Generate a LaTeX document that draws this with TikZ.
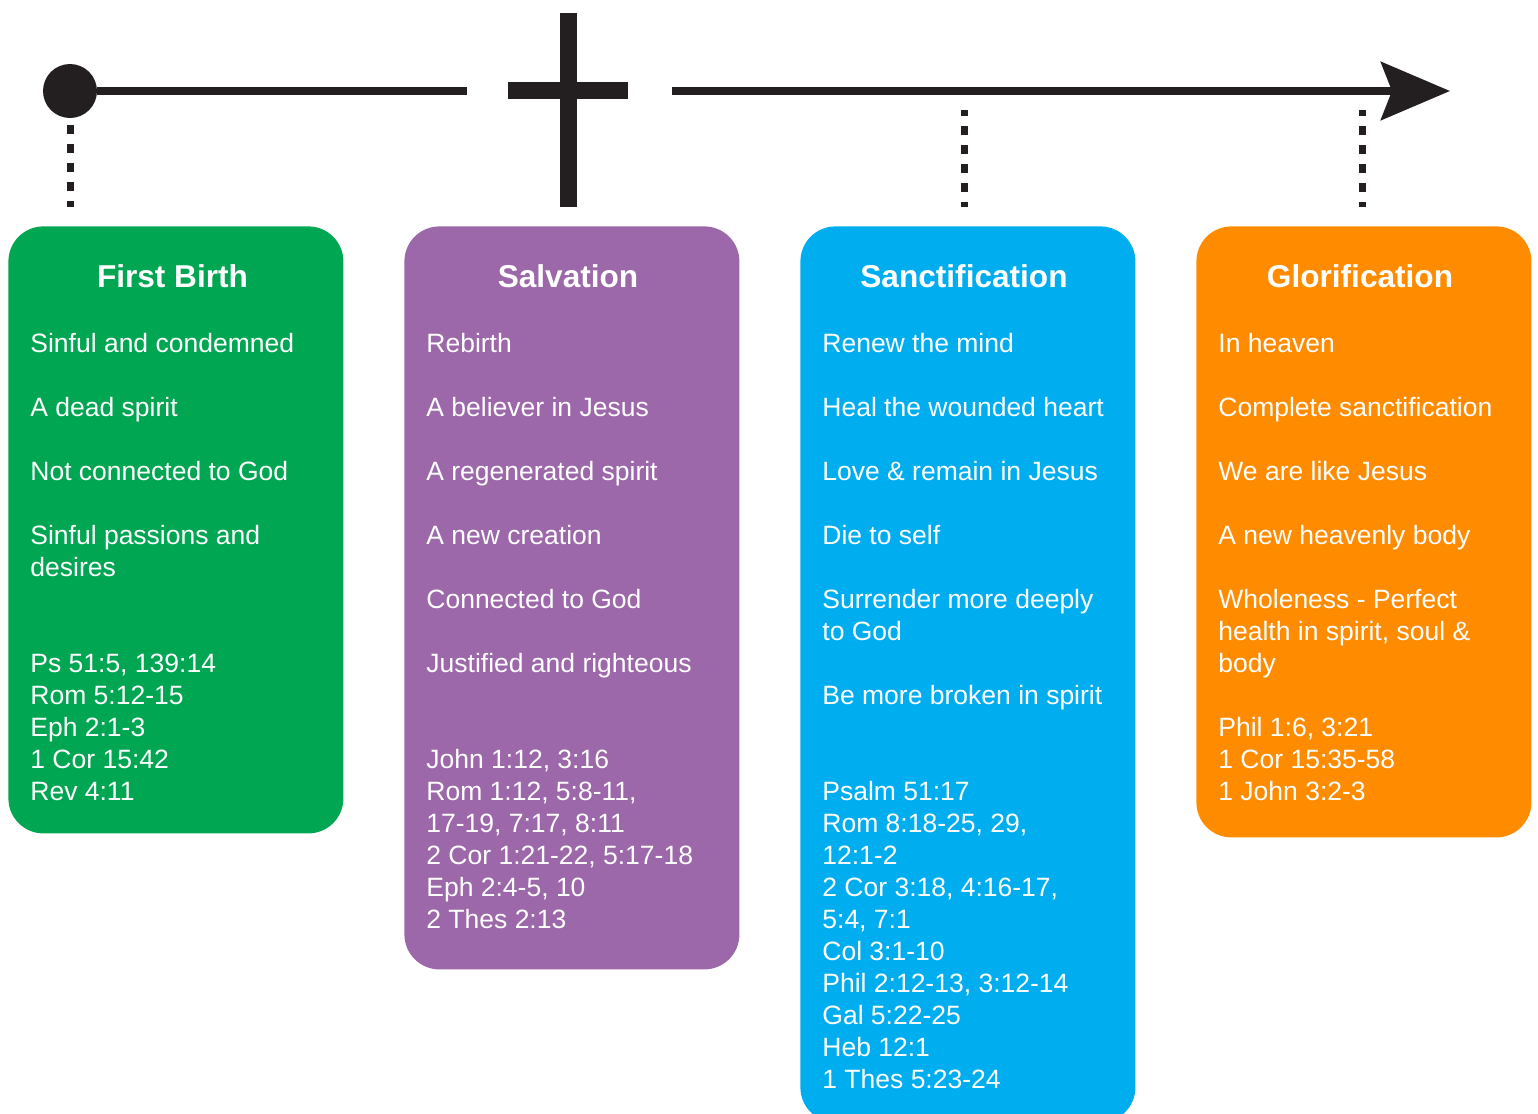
\documentclass[tikz,border=0pt]{standalone}
\usepackage{fontspec}
\setmainfont{Liberation Sans}
\usetikzlibrary{arrows.meta}

\definecolor{ink}{RGB}{35,31,32}
\definecolor{birthgreen}{RGB}{0,166,81}
\definecolor{salvpurple}{RGB}{156,104,170}
\definecolor{sanctblue}{RGB}{0,174,239}
\definecolor{gloryorange}{RGB}{255,140,0}

\begin{document}
\begin{tikzpicture}[x=0.5pt,y=-0.5pt]
\tikzset{StageBox/.style =
	{shape = rectangle,
		rounded corners = 17.5pt,
		minimum width = 167.5pt,
		anchor = north west,
		inner sep = 0pt},
	StageTitle/.style =
	{text = white,
		font = \fontsize{15.8}{19}\selectfont\bfseries,
		anchor = base,
		inner sep = 0pt},
	StageText/.style =
	{text = white,
		font = \fontsize{13.25}{16}\selectfont,
		anchor = base west,
		align = left,
		inner sep = 0pt},
	DotLine/.style =
	{draw = ink,
		line width = 3.5pt,
		dash pattern = on 4.5pt off 5pt}}
\useasboundingbox (0,0) rectangle (1538,1114);

% timeline
\node[circle, fill=ink, minimum size=27pt, inner sep=0pt] (start) at (70,91) {};
\coordinate (gapL) at (467,91);
\coordinate (gapR) at (672,91);
\coordinate (tip) at (1450,91);
\coordinate (sanctT) at (964,91);
\coordinate (gloryT) at (1362,91);
\draw[ink, line width=4pt] (start) -- (gapL);
\draw[ink, line width=4pt, -{Stealth[length=34.5pt, width=29pt, inset=5.5pt]}] (gapR) -- (tip);
% the cross
\coordinate (cross) at (568,91);
\fill[ink] (560,13) rectangle (577,207);
\fill[ink] (508,82) rectangle (628,99);

% stages
\node[StageBox, fill=birthgreen, minimum height=303.5pt] (birth) at (8,226) {};
\node[StageBox, fill=salvpurple, minimum height=371.5pt] (salv) at (404,226) {};
\node[StageBox, fill=sanctblue, minimum height=448pt] (sanct) at (800,226) {};
\node[StageBox, fill=gloryorange, minimum height=305.5pt] (glory) at (1196,226) {};

\draw[DotLine, shorten <=3.5pt, shorten >=9.5pt] (start.south) -- (start.south |- birth.north);
\draw[DotLine, dash phase=1.5pt, shorten <=9.5pt, shorten >=9.5pt] (sanctT) -- (sanctT |- sanct.north);
\draw[DotLine, dash phase=1.5pt, shorten <=9.5pt, shorten >=9.5pt] (gloryT) -- (gloryT |- glory.north);

\node[StageTitle] (birthH) at (172.5,287) {First Birth};
\node[StageTitle] (salvH) at (568,287) {Salvation};
\node[StageTitle] (sanctH) at (964,287) {Sanctification};
\node[StageTitle] (gloryH) at (1360,287) {Glorification};

% base anchor sits on the last line of each list
\node[StageText] (birthL) at (30,800) {Sinful and condemned\\[16pt]
	A dead spirit\\[16pt]
	Not connected to God\\[16pt]
	Sinful passions and\\ desires\\[32pt]
	Ps 51:5, 139:14\\ Rom 5:12-15\\ Eph 2:1-3\\ 1 Cor 15:42\\ Rev 4:11};
\node[StageText] (salvL) at (426,928) {Rebirth\\[16pt]
	A believer in Jesus\\[16pt]
	A regenerated spirit\\[16pt]
	A new creation\\[16pt]
	Connected to God\\[16pt]
	Justified and righteous\\[32pt]
	John 1:12, 3:16\\ Rom 1:12, 5:8-11,\\ 17-19, 7:17, 8:11\\
	2 Cor 1:21-22, 5:17-18\\ Eph 2:4-5, 10\\ 2 Thes 2:13};
\node[StageText] (sanctL) at (822,1088) {Renew the mind\\[16pt]
	Heal the wounded heart\\[16pt]
	Love \& remain in Jesus\\[16pt]
	Die to self\\[16pt]
	Surrender more deeply\\ to God\\[16pt]
	Be more broken in spirit\\[32pt]
	Psalm 51:17\\ Rom 8:18-25, 29,\\ 12:1-2\\ 2 Cor 3:18, 4:16-17,\\ 5:4, 7:1\\
	Col 3:1-10\\ Phil 2:12-13, 3:12-14\\ Gal 5:22-25\\ Heb 12:1\\ 1 Thes 5:23-24};
\node[StageText] (gloryL) at (1218,800) {In heaven\\[16pt]
	Complete sanctification\\[16pt]
	We are like Jesus\\[16pt]
	A new heavenly body\\[16pt]
	Wholeness - Perfect\\ health in spirit, soul \&\\ body\\[16pt]
	Phil 1:6, 3:21\\ 1 Cor 15:35-58\\ 1 John 3:2-3};
\end{tikzpicture}
\end{document}
